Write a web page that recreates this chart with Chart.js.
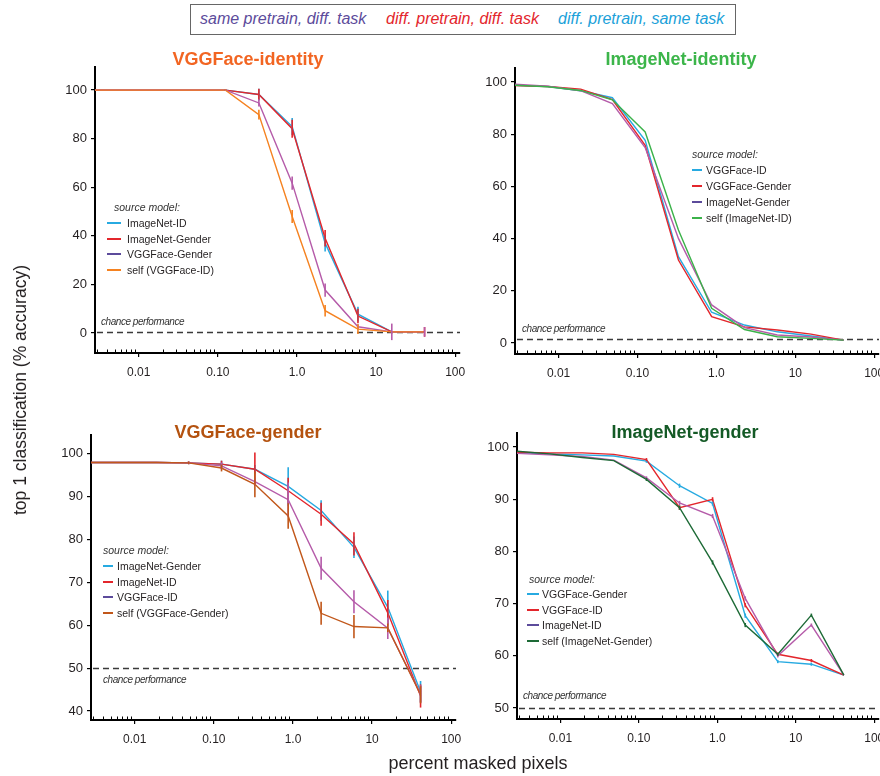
<!DOCTYPE html>
<html><head><meta charset="utf-8">
<script src="https://cdn.jsdelivr.net/npm/chart.js@4.4.1/dist/chart.umd.min.js"></script>
<style>
body{margin:0;background:#fff;}
#wrap{position:relative;width:880px;height:776px;overflow:hidden;font-family:'Liberation Sans',Arial,sans-serif;color:#231f20;}
canvas{position:absolute;}
.t{position:absolute;white-space:nowrap;}
</style></head><body><div id="wrap"></div>
<script>
// ---------- data ----------
const maskedPct = [0.0028, 0.0073, 0.019, 0.048, 0.125, 0.33, 0.87, 2.27, 5.9, 15.8, 41];
const xTickValues = [0.01, 0.1, 1, 10, 100];
const xTickLabels = ['0.01', '0.10', '1.0', '10', '100'];

// VGGFace-identity
const vggIdLabels = ['ImageNet-ID', 'ImageNet-Gender', 'VGGFace-Gender', 'self (VGGFace-ID)'];
const vggId_imagenetID     = [100, 100, 100, 100, 100, 98.2, 85.0, 37.0, 7.8, 0.5, 0.5];
const vggId_imagenetGender = [100, 100, 100, 100, 100, 98.2, 84.1, 39.0, 7.0, 0.5, 0.5];
const vggId_vggGender      = [100, 100, 100, 100, 100, 94.7, 61.7, 17.7, 2.6, 0.5, 0.5];
const vggId_self           = [100, 100, 100, 100, 100, 89.9, 48.0, 9.2, 1.6, 0.5, 0.5];
const vggIdErr_imagenetID     = [0, 0, 0, 0, 0.3, 2.4, 3.5, 3.4, 3.0, 0, 0];
const vggIdErr_imagenetGender = [0, 0, 0, 0, 0.3, 2.4, 3.7, 3.4, 3.0, 0, 2.0];
const vggIdErr_vggGender      = [0, 0, 0, 0, 0.3, 1.5, 2.7, 2.7, 1.0, 3.4, 2.0];
const vggIdErr_self           = [0, 0, 0, 0, 0.3, 2.0, 2.7, 2.4, 2.0, 0, 0];
const vggIdYTicks = [0, 20, 40, 60, 80, 100];

// ImageNet-identity
const inIdLabels = ['VGGFace-ID', 'VGGFace-Gender', 'ImageNet-Gender', 'self (ImageNet-ID)'];
const inId_vggID        = [98.8, 98.3, 96.7, 94.0, 77.7, 33.1, 11.8, 6.9, 4.3, 2.7, 1.1];
const inId_vggGender    = [98.7, 98.3, 97.3, 93.3, 75.8, 31.8, 10.1, 6.2, 5.0, 3.4, 1.1];
const inId_imagenetGender = [99.2, 98.4, 96.7, 91.8, 74.9, 40.1, 14.6, 5.9, 3.1, 2.3, 1.1];
const inId_self         = [98.8, 98.2, 96.8, 93.2, 80.9, 43.3, 13.3, 5.2, 2.4, 1.8, 1.1];
const inIdYTicks = [0, 20, 40, 60, 80, 100];

// VGGFace-gender
const vggGenLabels = ['ImageNet-Gender', 'ImageNet-ID', 'VGGFace-ID', 'self (VGGFace-Gender)'];
const vggGen_imagenetGender = [98, 98, 98, 97.9, 97.6, 96.4, 92.4, 86.8, 78.2, 64.2, 44.5];
const vggGen_imagenetID     = [98, 98, 98, 97.9, 97.6, 96.4, 91.4, 85.9, 79.0, 62.9, 43.5];
const vggGen_vggID          = [98, 98, 98, 97.9, 97.2, 93.5, 89.3, 73.3, 65.5, 59.3, 44.0];
const vggGen_self           = [98, 98, 98, 97.9, 96.7, 92.9, 85.5, 62.8, 59.7, 59.4, 43.8];
const vggGenErr_imagenetGender = [0, 0, 0, 0.3, 0.8, 1.0, 4.5, 2.4, 2.5, 3.9, 2.5];
const vggGenErr_imagenetID     = [0, 0, 0, 0.3, 0.8, 3.9, 3.0, 2.7, 2.7, 3.0, 2.7];
const vggGenErr_vggID          = [0, 0, 0, 0.3, 0.8, 1.0, 4.0, 2.7, 2.7, 2.5, 2.0];
const vggGenErr_self           = [0, 0, 0, 0.3, 0.8, 3.0, 3.0, 2.7, 2.7, 1.0, 2.0];
const vggGenYTicks = [40, 50, 60, 70, 80, 90, 100];

// ImageNet-gender
const inGenLabels = ['VGGFace-Gender', 'VGGFace-ID', 'ImageNet-ID', 'self (ImageNet-Gender)'];
const inGen_vggGender   = [98.9, 98.7, 98.5, 98.3, 97.3, 92.6, 89.2, 67.7, 58.9, 58.4, 56.3];
const inGen_vggID       = [99.0, 98.9, 98.9, 98.6, 97.6, 88.4, 90.0, 69.7, 60.3, 59.1, 56.3];
const inGen_imagenetID  = [98.8, 98.5, 98.2, 97.5, 94.1, 89.3, 86.8, 71.0, 60.0, 65.9, 56.3];
const inGen_self        = [99.2, 98.7, 98.0, 97.4, 93.8, 88.4, 77.9, 65.9, 60.3, 67.8, 56.3];
const inGenErr_small    = [0, 0, 0, 0, 0.3, 0.4, 0.4, 0.4, 0.3, 0.3, 0];
const inGenYTicks = [50, 60, 70, 80, 90, 100];

const chanceLevels = [0.5, 1.4, 50, 50];
const topLegendTexts = ['same pretrain, diff. task', 'diff. pretrain, diff. task', 'diff. pretrain, same task'];
const panelTitles = ['VGGFace-identity', 'ImageNet-identity', 'VGGFace-gender', 'ImageNet-gender'];

// ---------- styles ----------
const C = {cyan:'#27aae1', red:'#e3262c', purple:'#b55ba9', purpleLeg:'#5c4b9b', orange:'#f58220',
  green:'#3bb24a', brown:'#c1571a', dgreen:'#1d6a36'};
const xMin = 0.0028, xMax = 115;
const wrap = document.getElementById('wrap');
const REG = "'Liberation Sans',Arial,sans-serif";

const panelPlugin = {
  id: 'panelExtras',
  beforeDatasetsDraw(chart, args, opts) {
    const {ctx, chartArea: a, scales: {y}} = chart;
    const cy = Math.round(y.getPixelForValue(opts.chance)) + 0.5;
    ctx.save();
    ctx.strokeStyle = '#3a3a3a'; ctx.lineWidth = 1.5; ctx.setLineDash([6, 4]);
    ctx.beginPath(); ctx.moveTo(a.left + 2, cy); ctx.lineTo(a.right, cy); ctx.stroke();
    ctx.restore();
  },
  afterDatasetsDraw(chart) {
    const {ctx, scales: {x, y}} = chart;
    ctx.save(); ctx.lineWidth = 1.6;
    chart.data.datasets.forEach(ds => {
      const err = ds.errorBars; if (!err) return;
      ctx.strokeStyle = ds.borderColor;
      ds.data.forEach((pt, j) => {
        const e = err[j]; if (!e) return;
        const px = x.getPixelForValue(pt.x);
        ctx.beginPath();
        ctx.moveTo(px, y.getPixelForValue(pt.y - e));
        ctx.lineTo(px, y.getPixelForValue(pt.y + e));
        ctx.stroke();
      });
    });
    ctx.restore();
  },
  afterDraw(chart) {
    const {ctx, chartArea: a, scales: {x}} = chart;
    ctx.save(); ctx.strokeStyle = '#000'; ctx.lineWidth = 1;
    for (let n = -3; n <= 2; n++) {
      for (let k = 2; k <= 9; k++) {
        const v = k * Math.pow(10, n);
        if (v <= x.min || v >= x.max) continue;
        const px = Math.round(x.getPixelForValue(v)) + 0.5;
        ctx.beginPath(); ctx.moveTo(px, a.bottom - 1); ctx.lineTo(px, a.bottom - 3.5); ctx.stroke();
      }
    }
    ctx.restore();
  }
};

function makeChart(p) {
  const c = document.createElement('canvas');
  c.width = p.canvas.w; c.height = p.canvas.h;
  c.style.left = p.canvas.x + 'px'; c.style.top = p.canvas.y + 'px';
  wrap.appendChild(c);
  const padTop = p.area.t - p.canvas.y, padRight = p.canvas.x + p.canvas.w - p.area.r;
  const yW = p.area.l - p.canvas.x, xH = p.canvas.y + p.canvas.h - p.area.b;
  new Chart(c, {
    type: 'line',
    data: {datasets: p.series.map((s, i) => ({
      label: s.label,
      data: maskedPct.map((xv, j) => ({x: xv, y: s.values[j]})),
      borderColor: s.color, backgroundColor: s.color, borderWidth: 1.4,
      pointRadius: 0, fill: false, tension: 0, errorBars: s.err, order: p.series.length - i
    }))},
    options: {
      responsive: false, animation: false, devicePixelRatio: 1,
      layout: {padding: {top: padTop, right: padRight, left: 0, bottom: 0}},
      plugins: {legend: {display: false}, tooltip: {enabled: false}, panelExtras: {chance: p.chance}},
      scales: {
        x: {type: 'logarithmic', min: xMin, max: xMax, bounds: 'data',
          afterBuildTicks: s => { s.ticks = xTickValues.map(v => ({value: v, major: true})); },
          afterFit: s => { s.height = xH; s.paddingLeft = 0; s.paddingRight = 0; },
          ticks: {callback: (v, i) => xTickLabels[i], font: {family: REG, size: 12}, color: '#231f20',
            padding: 8, maxRotation: 0, autoSkip: false},
          grid: {drawOnChartArea: false, drawTicks: true, tickLength: 4, color: '#000', lineWidth: 1.2},
          border: {display: true, color: '#000', width: 2}},
        y: {type: 'linear', min: p.yMin, max: p.yMax,
          afterBuildTicks: s => { s.ticks = p.yTicks.map(v => ({value: v})); },
          afterFit: s => { s.width = yW; s.paddingTop = 0; s.paddingBottom = 0; },
          ticks: {callback: v => String(v), font: {family: REG, size: 13}, color: '#231f20', padding: 4},
          grid: {drawOnChartArea: false, drawTicks: true, tickLength: 4, color: '#000', lineWidth: 1.2},
          border: {display: true, color: '#000', width: 2}}
      }
    },
    plugins: [panelPlugin]
  });
}

const panels = [
  {canvas: {x: 0, y: 50, w: 475, h: 350}, area: {l: 95, t: 67, r: 460, b: 353}, yMin: -8.2, yMax: 109.5,
   yTicks: vggIdYTicks, chance: chanceLevels[0], series: [
    {label: vggIdLabels[0], values: vggId_imagenetID, err: vggIdErr_imagenetID, color: C.cyan},
    {label: vggIdLabels[1], values: vggId_imagenetGender, err: vggIdErr_imagenetGender, color: C.red},
    {label: vggIdLabels[2], values: vggId_vggGender, err: vggIdErr_vggGender, color: C.purple},
    {label: vggIdLabels[3], values: vggId_self, err: vggIdErr_self, color: C.orange}]},
  {canvas: {x: 475, y: 50, w: 405, h: 350}, area: {l: 515, t: 68, r: 879, b: 354}, yMin: -4.2, yMax: 105.4,
   yTicks: inIdYTicks, chance: chanceLevels[1], series: [
    {label: inIdLabels[0], values: inId_vggID, color: C.cyan},
    {label: inIdLabels[1], values: inId_vggGender, color: C.red},
    {label: inIdLabels[2], values: inId_imagenetGender, color: C.purple},
    {label: inIdLabels[3], values: inId_self, color: C.green}]},
  {canvas: {x: 0, y: 420, w: 475, h: 356}, area: {l: 91, t: 435, r: 456, b: 720}, yMin: 37.9, yMax: 104.4,
   yTicks: vggGenYTicks, chance: chanceLevels[2], series: [
    {label: vggGenLabels[0], values: vggGen_imagenetGender, err: vggGenErr_imagenetGender, color: C.cyan},
    {label: vggGenLabels[1], values: vggGen_imagenetID, err: vggGenErr_imagenetID, color: C.red},
    {label: vggGenLabels[2], values: vggGen_vggID, err: vggGenErr_vggID, color: C.purple},
    {label: vggGenLabels[3], values: vggGen_self, err: vggGenErr_self, color: C.brown}]},
  {canvas: {x: 475, y: 420, w: 405, h: 356}, area: {l: 517, t: 433, r: 879, b: 719}, yMin: 47.9, yMax: 102.7,
   yTicks: inGenYTicks, chance: chanceLevels[3], series: [
    {label: inGenLabels[0], values: inGen_vggGender, err: inGenErr_small, color: C.cyan},
    {label: inGenLabels[1], values: inGen_vggID, err: inGenErr_small, color: C.red},
    {label: inGenLabels[2], values: inGen_imagenetID, err: inGenErr_small, color: C.purple},
    {label: inGenLabels[3], values: inGen_self, err: inGenErr_small, color: C.dgreen}]}
];
panels.forEach(makeChart);

// ---------- text overlays ----------
function addText(txt, x, y, css) {
  const d = document.createElement('div'); d.className = 't'; d.textContent = txt;
  d.style.left = x + 'px'; d.style.top = y + 'px'; Object.assign(d.style, css || {});
  wrap.appendChild(d); return d;
}
function addBox(x, y, w, h, css) {
  const d = document.createElement('div'); d.style.position = 'absolute';
  d.style.left = x + 'px'; d.style.top = y + 'px'; d.style.width = w + 'px'; d.style.height = h + 'px';
  Object.assign(d.style, css || {}); wrap.appendChild(d); return d;
}

// top legend
addBox(190, 4, 546, 31, {border: '1px solid #666', boxSizing: 'border-box'});
const topColors = [C.purpleLeg, C.red, '#1ba1d9'];
const topX = [200, 386, 558];
topLegendTexts.forEach((t, i) => addText(t, topX[i], 9, {font: 'italic 16px ' + REG, lineHeight: '20px', color: topColors[i]}));

// titles
const titleColors = ['#f26522', '#3cb54a', '#b4520f', '#145a26'];
const titlePos = [[248, 59], [681, 59], [248, 432], [685, 432]];
panelTitles.forEach((t, i) => addText(t, titlePos[i][0], titlePos[i][1] - 11,
  {font: 'bold 18px ' + REG, lineHeight: '22px', color: titleColors[i], transform: 'translateX(-50%)'}));

// axis titles
addText('top 1 classification (% accuracy)', 20, 390, {font: '17.5px ' + REG, lineHeight: '20px',
  transform: 'translate(-50%,-50%) rotate(-90deg)'});
addText('percent masked pixels', 478, 763, {font: '18px ' + REG, lineHeight: '20px', transform: 'translate(-50%,-50%)'});

// chance labels
const chancePos = [[101, 322], [522, 329], [103, 680], [523, 696]];
chancePos.forEach(p => addText('chance performance', p[0], p[1] - 6,
  {font: 'italic 10px ' + REG, lineHeight: '12px', letterSpacing: '-0.45px', color: '#333'}));

// inner legends
const legends = [
  {sx: 114, sy: 207, lx: 107, lw: 14, tx: 127, ry: 223, step: 15.7, labels: vggIdLabels,
   colors: [C.cyan, C.red, C.purpleLeg, C.orange]},
  {sx: 692, sy: 154, lx: 692, lw: 10, tx: 706, ry: 170, step: 16, labels: inIdLabels,
   colors: [C.cyan, C.red, C.purpleLeg, C.green]},
  {sx: 103, sy: 550, lx: 103, lw: 10, tx: 117, ry: 566, step: 15.7, labels: vggGenLabels,
   colors: [C.cyan, C.red, C.purpleLeg, C.brown]},
  {sx: 529, sy: 579, lx: 527, lw: 12, tx: 542, ry: 594, step: 15.6, labels: inGenLabels,
   colors: [C.cyan, C.red, C.purpleLeg, C.dgreen]}
];
legends.forEach(L => {
  addText('source model:', L.sx, L.sy - 7, {font: 'italic 10.5px ' + REG, lineHeight: '14px', color: '#333'});
  L.labels.forEach((lab, i) => {
    const cy = L.ry + i * L.step;
    addBox(L.lx, Math.round(cy) - 1, L.lw, 2, {background: L.colors[i]});
    addText(lab, L.tx, cy - 7, {font: '10.5px ' + REG, lineHeight: '14px', color: '#231f20'});
  });
});
</script></body></html>
